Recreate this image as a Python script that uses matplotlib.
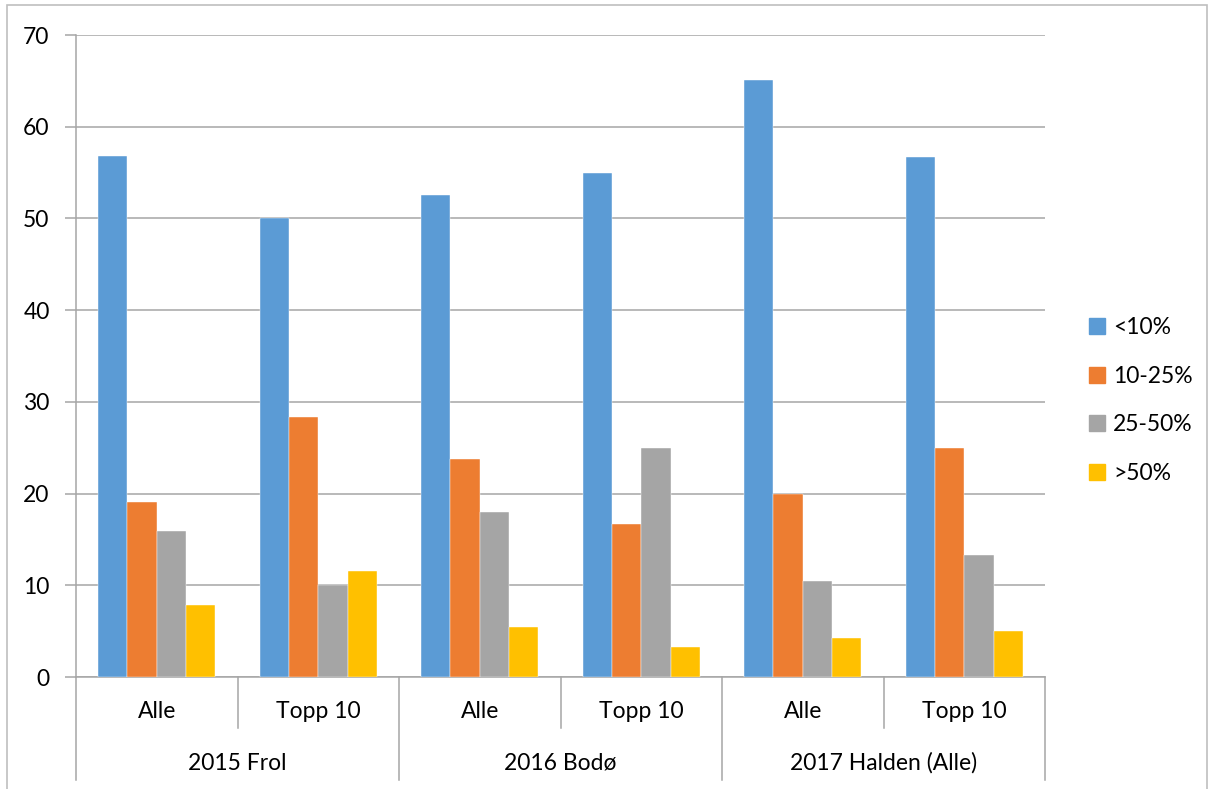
import numpy as np
import matplotlib
matplotlib.use('Agg')
import matplotlib.pyplot as plt
import matplotlib.transforms as mtransforms
from matplotlib.patches import Rectangle, Patch

### data
groups = ['2015 Frol', '2016 Bodø', '2017 Halden (Alle)']
subcats = ['Alle', 'Topp 10']
series = ['<10%', '10-25%', '25-50%', '>50%']
lt10 = [56.8, 50.0, 52.6, 55.0, 65.1, 56.7]
r10_25 = [19.1, 28.3, 23.8, 16.7, 20.0, 25.0]
r25_50 = [15.9, 10.0, 18.0, 25.0, 10.5, 13.3]
gt50 = [7.9, 11.6, 5.5, 3.3, 4.3, 5.0]
colors = ['#5B9BD5', '#ED7D31', '#A5A5A5', '#FFC000']

plt.rcParams['font.family'] = ['Lato', 'DejaVu Sans']
grid_c = '#a6a6a6'
fs = 16.5

fig = plt.figure(figsize=(12.12, 7.89), dpi=100)
ax = fig.add_axes([76 / 1212, 1 - 677 / 789, (1045 - 76) / 1212, (677 - 35) / 789])

# outer chart border
fig.patches.append(Rectangle((7 / 1212, -0.05), 1200 / 1212, 1 - 5 / 789 + 0.05,
                             transform=fig.transFigure, fill=False,
                             edgecolor='#bfbfbf', lw=1.2))

n = len(lt10)
x = np.arange(n) + 0.5
w = 1 / 5.5
for i, vals in enumerate([lt10, r10_25, r25_50, gt50]):
    ax.bar(x + (i - 1.5) * w, vals, w, color=colors[i], label=series[i],
           edgecolor='white', linewidth=0.3, zorder=3)

ax.set_xlim(0, n)
ax.set_ylim(0, 70)
ax.set_yticks(range(0, 71, 10))
ax.yaxis.grid(True, color=grid_c, lw=1.1, zorder=0)
ax.set_axisbelow(True)
for s in ['top', 'right']:
    ax.spines[s].set_visible(False)
ax.spines['left'].set_color(grid_c)
ax.spines['bottom'].set_color(grid_c)
ax.spines['left'].set_linewidth(1.1)
ax.spines['bottom'].set_linewidth(1.1)
ax.tick_params(axis='y', length=8, color=grid_c, width=1.1, labelsize=fs, pad=11)
ax.set_xticks([])

# multi-level category axis
tr = mtransforms.blended_transform_factory(ax.transData, ax.transAxes)
h1 = -(728 - 677) / 642
h2 = -(780 - 677) / 642
for k in range(n + 1):
    bottom = h2 if k % 2 == 0 else h1
    ax.plot([k, k], [0, bottom], transform=tr, color=grid_c, lw=1.1, clip_on=False)
for k in range(n):
    ax.text(k + 0.5, -(712 - 677) / 642, subcats[k % 2], transform=tr,
            ha='center', va='center', fontsize=fs)
for g, name in enumerate(groups):
    ax.text(2 * g + 1, -(763 - 677) / 642, name, transform=tr,
            ha='center', va='center', fontsize=fs)

handles = [Patch(color=c) for c in colors]
fig.legend(handles, series, loc='upper left', bbox_to_anchor=(1080 / 1212, 1 - 308 / 789),
           frameon=False, fontsize=fs, handlelength=0.7, handleheight=0.7,
           handletextpad=0.35, labelspacing=1.2, borderaxespad=0)

fig.savefig('out.png', dpi=100)
